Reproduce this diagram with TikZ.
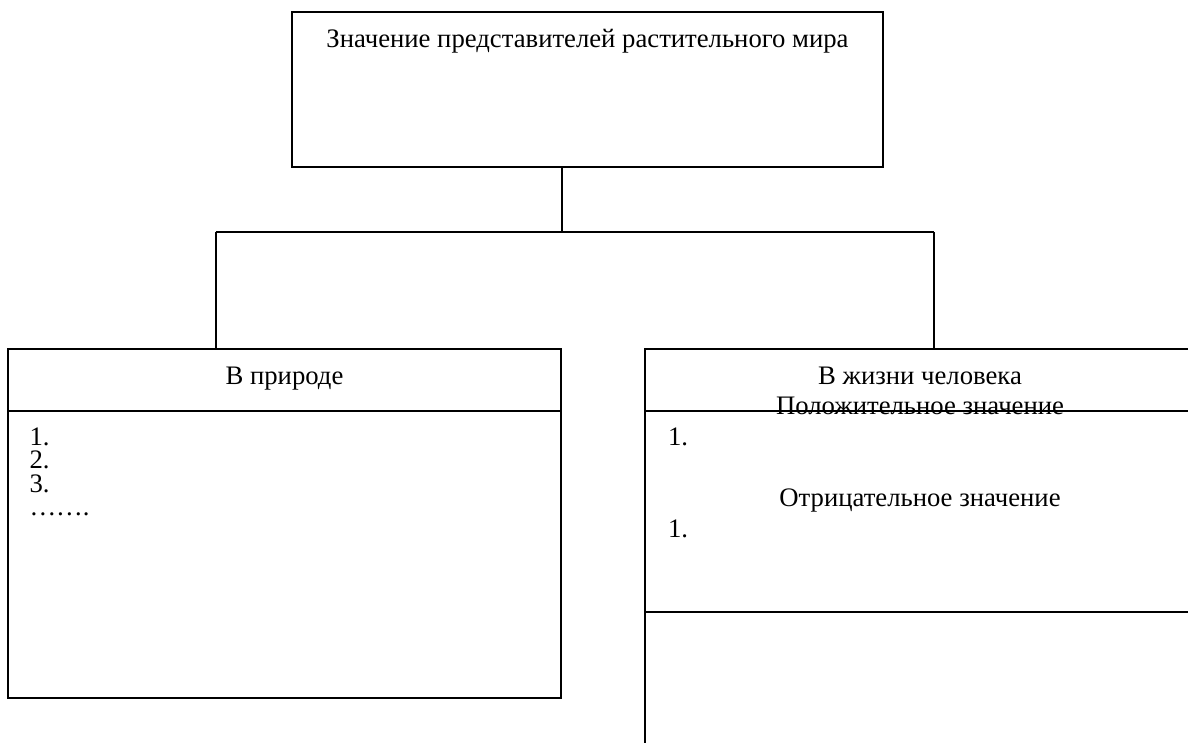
\documentclass[tikz,border=0pt]{standalone}
\usepackage{fontspec}
\setmainfont{Liberation Serif}
\begin{document}
\begin{tikzpicture}[x=1pt,y=-1pt,
  box/.style={draw, line width=1.8pt, outer sep=0pt, inner sep=0pt},
  conn/.style={line width=1.8pt},
  txt/.style={inner sep=0pt, outer sep=0pt, anchor=base, font=\fontsize{26.7}{30.7}\selectfont},
  ltxt/.style={txt, anchor=base west, text height=18pt, text depth=0pt}]
\fill[white] (0,0) rectangle (1188,742);
\useasboundingbox (0,0) rectangle (1188,742);
\clip (0,0) rectangle (1188,742);
% boxes
\node[box, minimum width=590.7pt, minimum height=155pt] (top) at (587.6,89.8) {};
\node[box, minimum width=552.4pt, minimum height=349.3pt] (left) at (284.5,523.65) {};
\node[box, minimum width=551.3pt, minimum height=411pt] (right) at (920.35,554.5) {};
% dividers
\draw[conn] (left.west |- 0,410.7) -- (left.east |- 0,410.7);
\draw[conn] (right.west |- 0,411) -- (right.east |- 0,411);
\draw[conn] (right.west |- 0,612.3) -- (right.east |- 0,612.3);
% connectors
\coordinate (jc) at (562,232);
\coordinate (jl) at (215.7,232);
\coordinate (jr) at (934.3,232);
\draw[conn] (jc |- top.south) -- (jc);
\draw[conn] (jl) -- (jr);
\draw[conn] (jl) -- (jl |- left.north);
\draw[conn] (jr) -- (jr |- right.north);
% texts
\node[txt] (title) at (587.5,47) {Значение представителей растительного мира};
\node[txt] (lhead) at (284.5,384) {В природе};
\node[ltxt] (l1) at (29.5,445) {1.};
\node[ltxt] (l2) at (29.5,468.5) {2.};
\node[ltxt] (l3) at (29.5,492) {3.};
\node[ltxt] (l4) at (29.5,515.5) {…….};
\node[txt] (rhead) at (920,384) {В жизни человека};
\node[txt] (rpos) at (920,414) {Положительное значение};
\node[ltxt] (r1) at (668,445) {1.};
\node[txt] (rneg) at (920,506.4) {Отрицательное значение};
\node[ltxt] (r2) at (668,537.1) {1.};
\end{tikzpicture}
\end{document}
